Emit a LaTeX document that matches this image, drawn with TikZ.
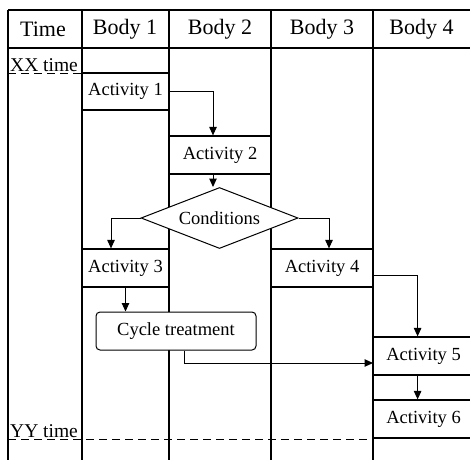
\documentclass[tikz,border=0pt]{standalone}
\usepackage{fontspec}
\setmainfont{Liberation Serif}
\usetikzlibrary{arrows.meta}
\usetikzlibrary{positioning, shapes.geometric}
\tikzset{
lane head/.style = { draw = none, inner sep = 0pt, font = \fontsize{22}{26}\selectfont },
lane line/.style = { draw = black, line width = 1.2pt },
time line/.style = { draw = black, line width = 1pt, dash pattern = on 8pt off 5pt },
time mark/.style = { draw = none, inner sep = 0pt, anchor = base west, font = \fontsize{19.5}{23}\selectfont },
activity/.style = { rectangle, draw = black, fill = white, line width = 1.2pt, minimum height = 38pt, inner sep = 0pt, font = \fontsize{18.5}{22}\selectfont },
cycle box/.style = { rectangle, draw = black, fill = white, line width = 1pt, minimum width = 160pt, minimum height = 38pt, rounded corners = 4pt, font = \fontsize{18.5}{22}\selectfont },
condition/.style = { diamond, draw = black, fill = white, line width = 1pt, aspect = 2.5, inner sep = 0pt, minimum width = 157pt, minimum height = 61pt, font = \fontsize{18.5}{22}\selectfont },
flow/.style = { draw = black, line width = 1pt, -{Triangle[length = 8.5pt, width = 7.5pt]} },
}
\begin{document}
\begin{tikzpicture}[x=1pt, y=-1pt]
      \useasboundingbox (0,0) rectangle (470,460);
      \clip (0,0) rectangle (470,460);
      % lanes
      \foreach \x in {8, 82, 169, 271, 373} {
        \draw[lane line] (\x,10) -- (\x,460);
      }
      \draw[lane line] (8,10) -- (470,10);
      \draw[lane line] (8,48) -- (470,48);
      \begin{scope}[every node/.style={lane head}]
        \node (hTime) at (43,29) {Time};
        \node (hB1) at (125,29) {Body 1};
        \node (hB2) at (220,29) {Body 2};
        \node (hB3) at (322,29) {Body 3};
        \node (hB4) at (421.5,29) {Body 4};
      \end{scope}
      % time marks
      \draw[time line] (8,73) -- (82,73);
      \draw[time line] (8,439) -- (373,439);
      \node[time mark] (xx) at (10,71) {XX time};
      \node[time mark] (yy) at (10,437) {YY time};
      % activities
      \node[activity, minimum width=87pt, minimum height=37pt] (act1) at (125.5,91.5) {Activity 1};
      \node[activity, minimum width=102pt] (act2) at (220,155) {Activity 2};
      \node[condition] (cond) at (219.5,218) {Conditions};
      \node[activity, minimum width=87pt] (act3) at (125.5,268) {Activity 3};
      \node[activity, minimum width=102pt] (act4) at (322,268) {Activity 4};
      \node[cycle box] (cyc) at (176,331) {Cycle treatment};
      \node[activity, minimum width=100pt, anchor=west] (act5) at (373,356) {Activity 5};
      \node[activity, minimum width=100pt, anchor=west] (act6) at (373,419) {Activity 6};
      % flow
      \draw[flow] (act1.east) -| ([xshift=-7pt]act2.north);
      \draw[flow] ([xshift=-7pt]act2.south) -- ([xshift=-7pt]act2.south |- cond.north);
      \draw[flow] (cond.west) -| ([xshift=-14.5pt]act3.north);
      \draw[flow] (cond.east) -| ([xshift=7pt]act4.north);
      \draw[flow] (act3.south) -- (act3.south |- cyc.north);
      \draw[flow] ([yshift=-7pt]act4.east) -| ([xshift=-6pt]act5.north);
      \draw[flow] ([xshift=8pt]cyc.south) |- ([yshift=-7pt]act5.west);
      \draw[flow] ([xshift=-6pt]act5.south) -- ([xshift=-6pt]act6.north);
\end{tikzpicture}
\end{document}
